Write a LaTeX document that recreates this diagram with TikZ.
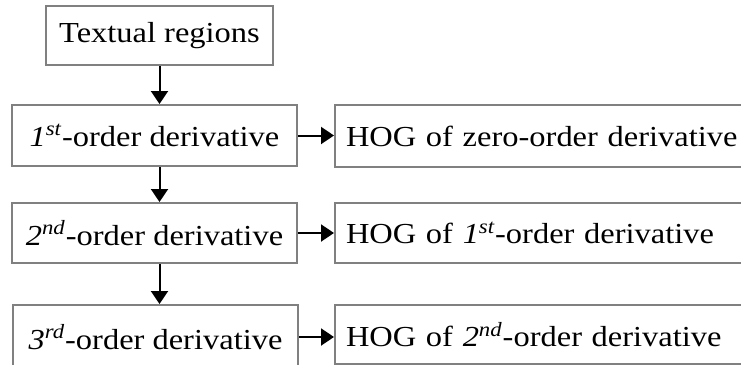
\documentclass[tikz,border=0pt]{standalone}
\usepackage{fontspec}
\setmainfont[FakeStretch=1.12]{Liberation Serif}
\usetikzlibrary{arrows.meta}

\tikzset{
  box/.style={draw=black!50, line width=1pt, inner sep=0pt, align=center},
  hogbox/.style={box, anchor=west, text width=215pt, align=left, inner xsep=5.5pt},
  arr/.style={line width=1pt, -{Triangle[width=8.5pt,length=6.5pt]}}
}
\newcommand{\ord}[2]{\textit{#1\textsuperscript{#2}}}

\begin{document}
\begin{tikzpicture}[x=0.5pt,y=-0.5pt,font=\fontsize{14.5}{16}\selectfont]
\useasboundingbox (0,0) rectangle (741,365);

\node[box, minimum width=113.5pt, minimum height=29.5pt] (top) at (159.5,35.5) {Textual regions};

\node[box, minimum width=142.5pt, minimum height=30.5pt] (l1) at (154.5,135.5) {\ord{1}{st}-order derivative};
\node[box, minimum width=142.5pt, minimum height=30pt] (l2) at (154.5,233) {\ord{2}{nd}-order derivative};
\node[box, minimum width=142.5pt, minimum height=32pt] (l3) at (155.5,337) {\ord{3}{rd}-order derivative};

\node[hogbox, minimum height=31pt] (r1) at (334,136) {HOG of zero-order derivative};
\node[hogbox, minimum height=30pt] (r2) at (334,233) {HOG of \ord{1}{st}-order derivative};
\node[hogbox, minimum height=29.5pt] (r3) at (334,334.5) {HOG of \ord{2}{nd}-order derivative};

\draw[arr] (top.south) -- (top.south |- l1.north);
\draw[arr] (top.south |- l1.south) -- (top.south |- l2.north);
\draw[arr] (top.south |- l2.south) -- (top.south |- l3.north);

\draw[arr] (l1.east) -- (l1.east -| r1.west);
\draw[arr] (l2.east) -- (l2.east -| r2.west);
\draw[arr] (l3.east) -- (l3.east -| r3.west);
\end{tikzpicture}
\end{document}
